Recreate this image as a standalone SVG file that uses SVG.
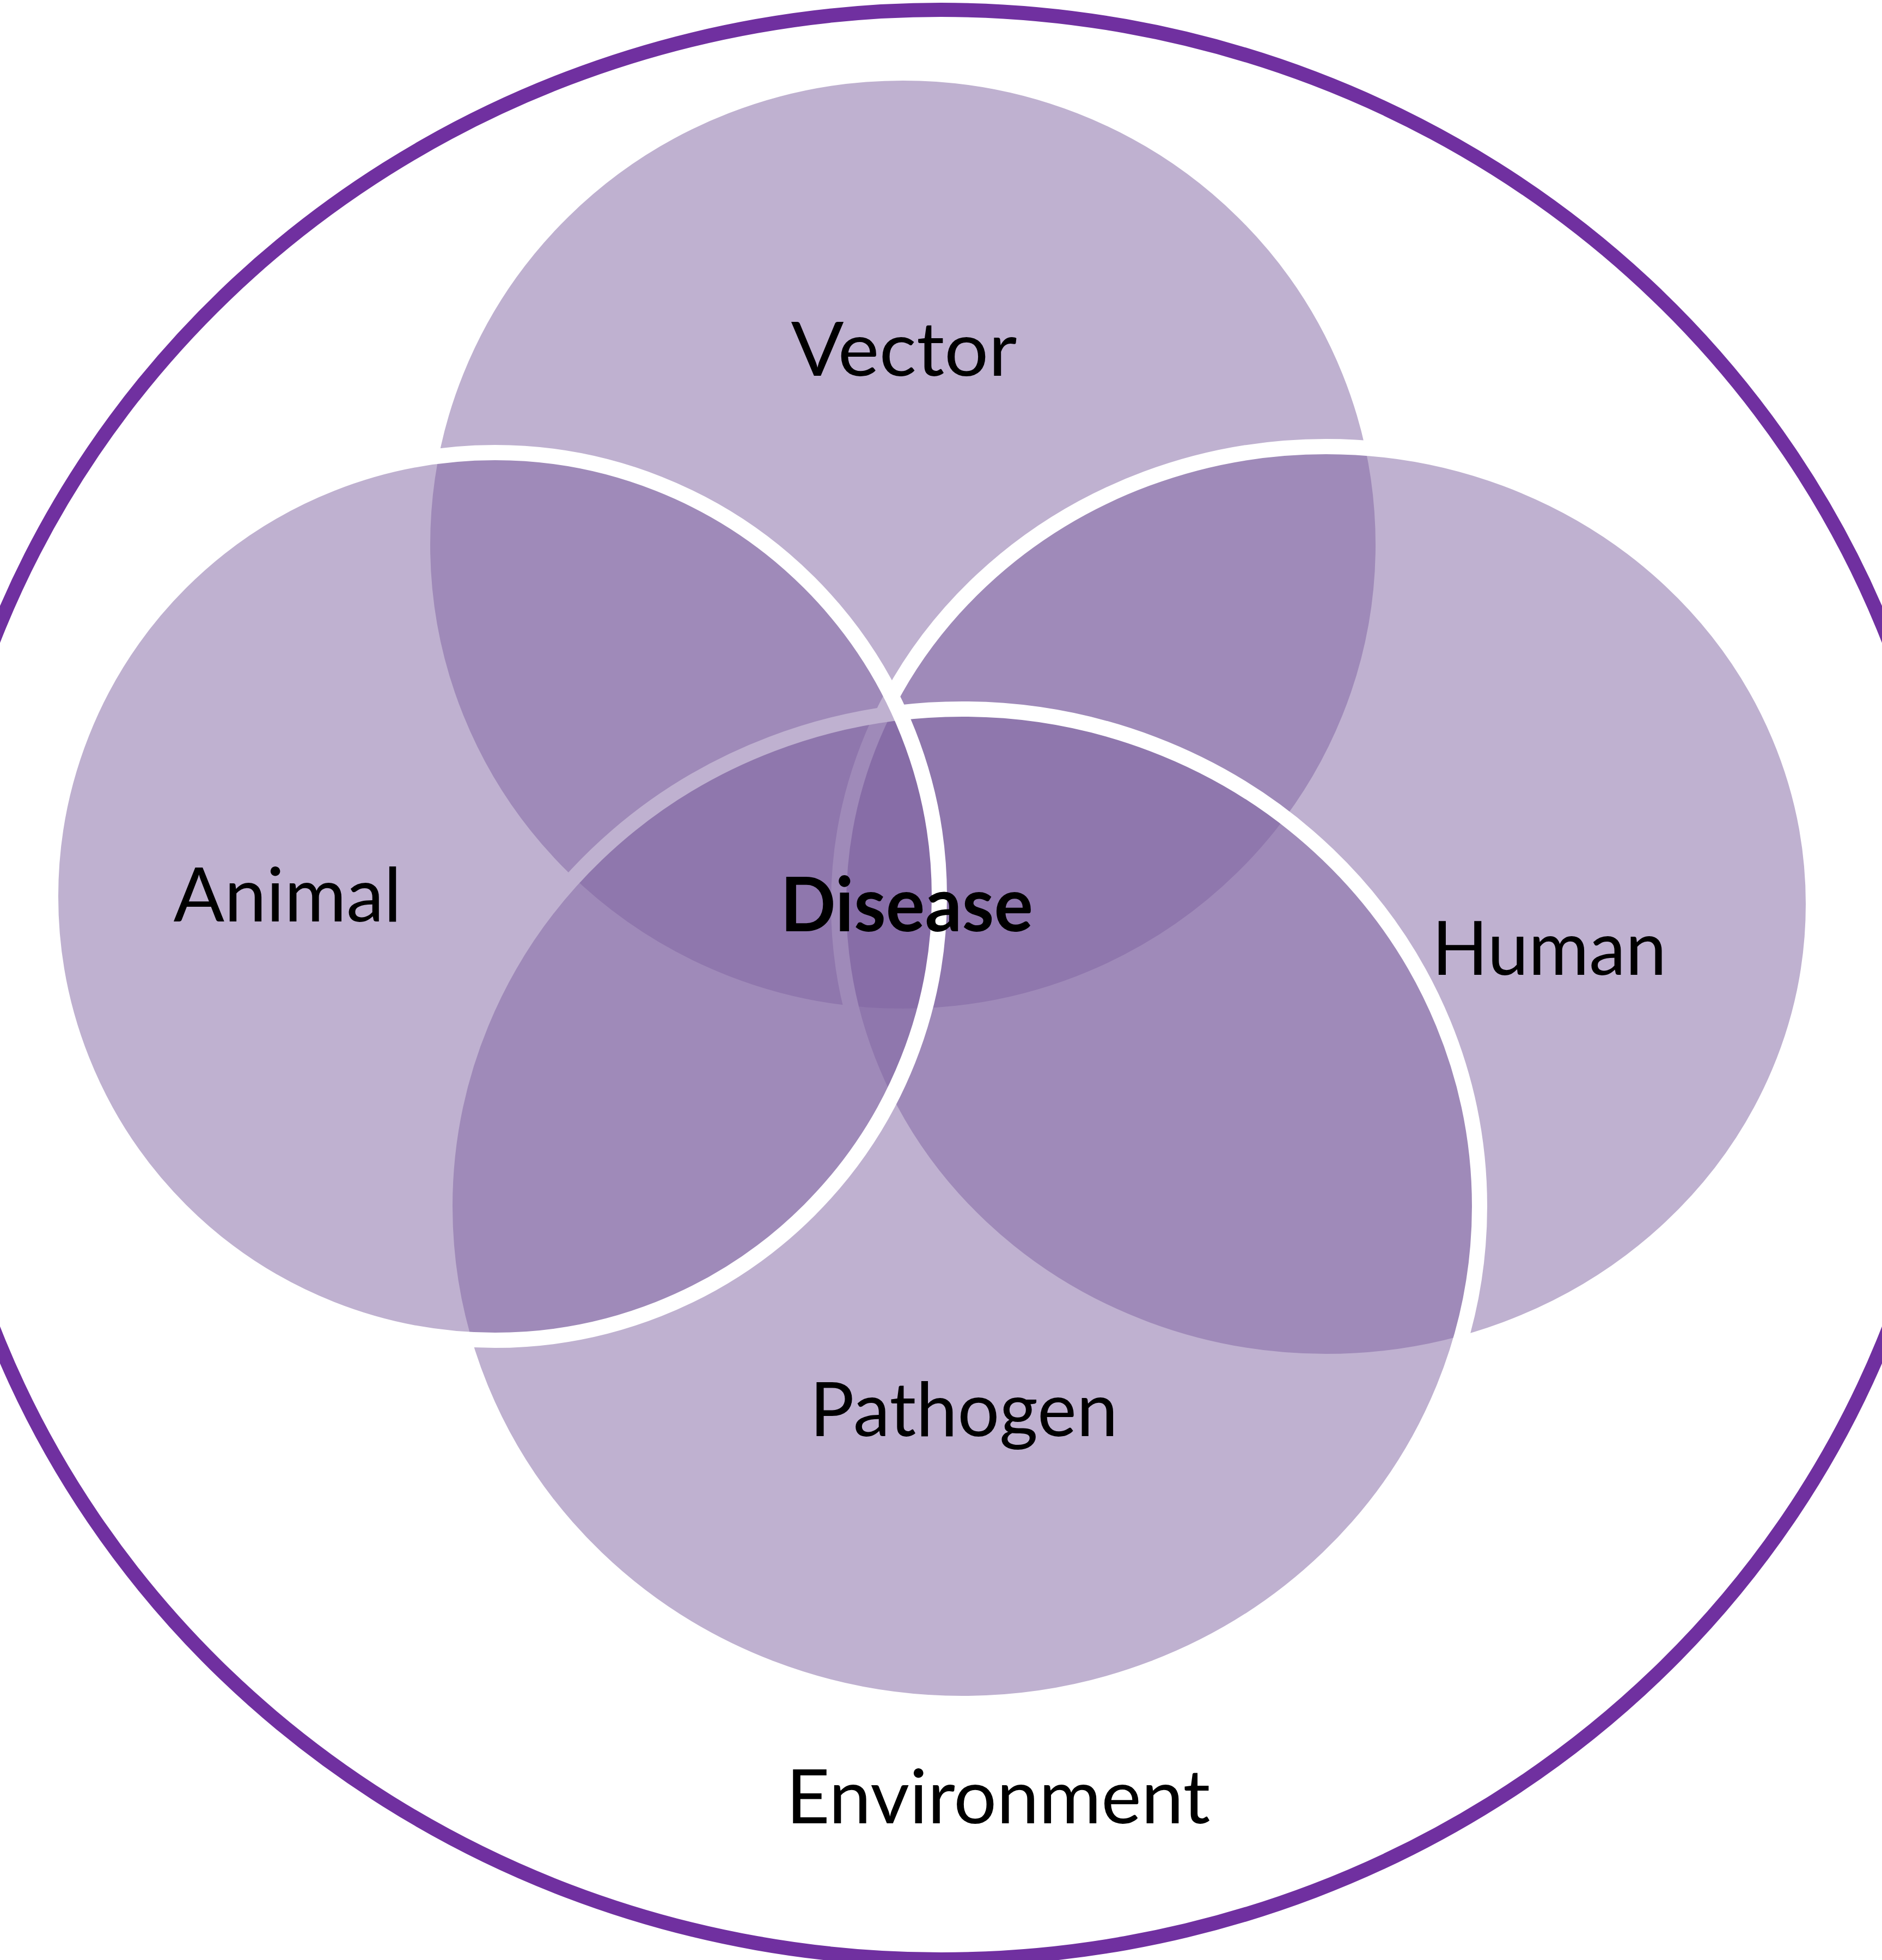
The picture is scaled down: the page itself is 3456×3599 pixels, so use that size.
<svg xmlns="http://www.w3.org/2000/svg" width="3456" height="3599" viewBox="0 0 3456 3599">
<style>
.bg{fill:#ffffff}
.env{fill:none;stroke:#7030A0;stroke-width:26}
.set{fill:#8064A2;fill-opacity:0.5;stroke:#ffffff;stroke-width:28}
.lbl{font-family:Lato,"Liberation Sans",sans-serif;font-size:137px;fill:#000000;text-anchor:middle}
.bold{font-weight:bold}
</style>
<rect class="bg" x="0" y="0" width="3456" height="3599"/>
<g id="environment">
<ellipse class="env" cx="1728" cy="1808" rx="1860" ry="1790"/>
<text class="lbl" x="1833" y="3348" textLength="779" lengthAdjust="spacingAndGlyphs">Environment</text>
</g>
<g id="vector">
<ellipse class="set" cx="1658" cy="1000" rx="882" ry="866"/>
<text class="lbl" x="1660" y="690" textLength="415" lengthAdjust="spacingAndGlyphs">Vector</text>
</g>
<g id="human">
<ellipse class="set" cx="2435" cy="1660" rx="895" ry="840"/>
<text class="lbl" x="2845" y="1790" textLength="431" lengthAdjust="spacingAndGlyphs">Human</text>
</g>
<g id="pathogen">
<ellipse class="set" cx="1767" cy="2215" rx="950" ry="913"/>
<text class="lbl" x="1770" y="2637" textLength="566" lengthAdjust="spacingAndGlyphs">Pathogen</text>
</g>
<g id="animal">
<ellipse class="set" cx="909" cy="1646" rx="816" ry="815"/>
<text class="lbl" x="528" y="1692" textLength="419" lengthAdjust="spacingAndGlyphs">Animal</text>
</g>
<g id="disease">
<text class="lbl bold" x="1665" y="1710" font-size="135" textLength="464" lengthAdjust="spacingAndGlyphs">Disease</text>
</g>
<g id="connectors"></g>
</svg>
